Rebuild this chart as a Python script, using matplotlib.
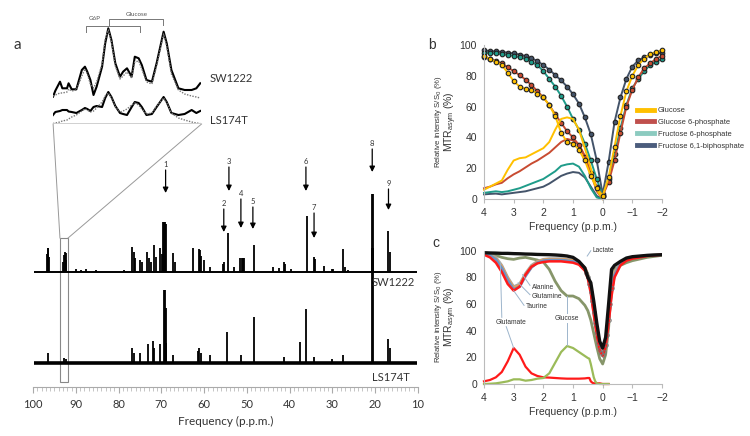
import matplotlib
matplotlib.use("Agg")
import matplotlib.pyplot as plt
from matplotlib.lines import Line2D

W, H = 750, 436

# ---------------- panel a: 13C spectra (ppm, peak height) ----------------
sw_ppm = [96.8, 96.6, 96.4, 96.2, 93.0, 92.8, 92.6, 92.4, 92.2, 90.0, 88.7, 87.5, 85.2, 78.8,
          76.8, 76.5, 76.2, 75.0, 74.6, 73.3, 72.9, 72.4, 71.7, 71.2, 70.3, 69.9, 69.5, 69.3,
          69.1, 68.9, 67.2, 66.8, 62.5, 61.3, 61.0, 60.7, 60.1, 58.6, 55.6, 55.3, 54.5, 53.1,
          51.5, 51.2, 50.9, 50.6, 48.4, 44.0, 42.5, 41.4, 41.2, 39.6, 36.0, 34.4, 34.0, 32.0,
          30.2, 29.8, 27.6, 27.0, 26.3, 20.8, 20.6, 16.9, 16.6]
sw_height = [18, 24, 24, 15, 10, 17, 20, 19, 12, 3, 2.5, 3, 2, 2,
             25, 20, 14, 12, 10, 20, 14, 10, 27, 15, 24, 18, 50, 50,
             50, 48, 19, 10, 24, 23, 22, 16, 12, 5, 8, 10, 39, 5,
             14, 14, 14, 14, 27, 5, 4, 10, 8, 3, 56, 15, 13, 6,
             3, 3, 23, 5, 2, 78, 78, 41, 20]
ls_ppm = [96.5, 92.7, 92.3, 76.8, 76.4, 74.9, 73.2, 72.0, 71.6, 70.2, 69.4, 69.2, 69.0, 68.8,
          67.2, 61.4, 61.1, 60.8, 58.6, 54.6, 51.3, 48.4, 41.3, 37.6, 36.1, 34.4, 30.2, 27.5,
          20.8, 20.6, 16.9, 16.6]
ls_height = [10, 5, 4, 15, 10, 10, 19, 22, 15, 19, 73, 73, 55, 20,
             8, 12, 15, 10, 8, 31, 8, 46, 6, 21, 54, 6, 4, 8,
             115, 115, 24, 15]

# arrows: label, ppm, label y, arrow start, arrow tip (pixel rows)
peak_labels = ["1", "2", "3", "4", "5", "6", "7", "8", "9"]
peak_label_ppm = [69.0, 55.4, 54.2, 51.4, 48.6, 36.2, 34.3, 20.7, 16.9]

# inset (zoom on 91.8-93.7 ppm)
inset_ppm = [93.70, 93.67, 93.61, 93.58, 93.52, 93.50, 93.46, 93.40, 93.33, 93.29, 93.26, 93.22,
             93.18, 93.14, 93.07, 93.03, 92.99, 92.95, 92.90, 92.84, 92.80, 92.75, 92.69, 92.65,
             92.60, 92.56, 92.50, 92.43, 92.37, 92.28, 92.24, 92.18, 92.09, 92.01, 91.92, 91.86, 91.81]
sw_inset = [27.3, 33.3, 42.3, 35.7, 35.7, 40.7, 34.7, 34.7, 54, 57.3, 52.3, 44, 29, 37.3, 57.3,
            80.7, 95.7, 84, 60.7, 47.3, 52.3, 55.7, 47.3, 67.3, 65.7, 59, 44, 42.3, 60.7, 92.3,
            80.7, 54, 35.7, 34, 34, 35.7, 40.7]
sw_inset_fit = [28, 29, 31, 31, 32, 35, 33, 34, 48, 55, 50, 40, 36, 42, 60, 85, 94, 82, 58, 45,
                48, 52, 46, 62, 63, 55, 42, 40, 58, 90, 78, 50, 34, 30, 28, 27, 26]
ls_inset = [9, 12, 13, 14, 14, 12.5, 12, 11, 14, 16, 15, 13, 17, 18, 17, 26, 32, 27, 18, 11,
            10, 9, 17, 22, 21, 17, 9, 10, 17, 27, 22, 11, 9, 10, 14, 11, 13]
ls_inset_fit = [0.5, 1, 2, 3, 4, 5, 7, 9, 13, 15, 14, 12, 13, 16, 22, 28, 31, 26, 17, 12, 13,
                15, 19, 21, 19, 15, 10, 11, 18, 26, 21, 11, 6, 4, 2, 1, 0.5]

# ---------------- panel b: Z-spectra and MTRasym ----------------
freq_b = [4.0, 3.8, 3.6, 3.4, 3.2, 3.0, 2.8, 2.6, 2.4, 2.2, 2.0, 1.8, 1.6, 1.4, 1.2, 1.0,
          0.8, 0.6, 0.4, 0.2, 0.0, -0.2, -0.4, -0.6, -0.8, -1.0, -1.2, -1.4, -1.6, -1.8, -2.0]
b_names = ["Glucose", "Glucose 6-phosphate", "Fructose 6-phosphate", "Fructose 6,1-biphosphate"]
z_glc = [93, 91, 89, 87, 82, 76.5, 73, 71.5, 70.5, 68.5, 66, 61, 54, 43, 37, 36,
         32, 25, 15, 7, 2, 14, 34, 54, 70, 80, 87, 91, 94, 95.5, 96.5]
z_g6p = [92, 91, 89.5, 88, 85.5, 83, 80.5, 77.5, 74, 70, 66, 61, 55, 49.5, 44, 40,
         35, 27, 17, 8, 2, 11, 25, 43, 60, 71, 79, 85, 88, 91, 93]
z_f6p = [95, 94.8, 94.5, 94, 93.5, 93, 92, 91, 89, 87, 83, 78, 73, 67, 60, 52,
         45, 36, 25, 13, 2, 13, 29, 46, 61, 72, 78, 83, 87, 89, 91]
z_fbp = [96.5, 96, 95.8, 95.5, 95, 94.5, 93.8, 92.8, 91.5, 89.5, 87, 84, 80.5, 77, 73, 68,
         62, 53, 42, 25, 3, 24, 50, 66, 78, 86, 90, 92, 93.5, 94.5, 95]
freq_mtr = [4.0, 3.8, 3.6, 3.4, 3.2, 3.0, 2.8, 2.6, 2.4, 2.2, 2.0, 1.8, 1.6, 1.4, 1.2, 1.0,
            0.8, 0.6, 0.4, 0.2, 0.0]
mtr_glc = [6, 8, 10, 12, 19, 25, 26.5, 27, 29, 31, 33, 37, 45, 52, 53, 52, 45, 33, 20, 6, 0]
mtr_g6p = [7, 8, 9.5, 10.5, 13.5, 16, 18, 20.5, 23, 25, 27.5, 30, 33.5, 37, 39, 38, 35.5, 28, 17, 5, 0]
mtr_f6p = [4, 4.5, 5, 4.5, 5, 6, 7, 8.5, 10, 11.5, 13, 15.5, 18, 21.5, 22.5, 23, 21, 15, 7, 1, 0]
mtr_fbp = [3, 3.3, 3.5, 3, 3.5, 4, 4.5, 5, 6, 7, 8, 10, 12.5, 15, 16.5, 17.5, 17, 14, 8, 2, 0]

# ---------------- panel c: metabolites ----------------
freq_c = [4.0, 3.8, 3.6, 3.4, 3.2, 3.0, 2.8, 2.6, 2.4, 2.2, 2.0, 1.8, 1.6, 1.4, 1.2, 1.0,
          0.8, 0.6, 0.5, 0.4, 0.3, 0.2, 0.1, 0.0, -0.1, -0.2, -0.3, -0.4, -0.6, -0.8, -1.0, -1.5, -2.0]
z_lactate = [98.5, 98.3, 98.2, 98, 98, 97.8, 97.7, 97.5, 97.4, 97.2, 97.1, 97, 96.8, 96.5, 96, 95,
             92, 87, 80, 76, 62, 46, 32, 27, 35, 60, 86, 89, 92, 94.5, 95.5, 96.5, 97]
z_alanine = [97.5, 96.5, 94, 88, 79, 72, 74, 82, 88, 91.5, 93, 93.5, 93.5, 93.5, 93, 92.5,
             91, 87, 82, 71, 55, 39, 27, 23, 30, 48, 70, 83, 90, 93, 94.5, 96.3, 97]
z_glutamine = [97.5, 96.5, 93.5, 87, 78, 71, 73, 81, 87.5, 91, 92.5, 93, 93, 93, 92.5, 92,
               90.5, 86, 81, 70, 54, 38, 26, 22, 29, 47, 69, 82, 90, 93, 94.5, 96.3, 97]
z_taurine = [97.8, 97, 95, 89, 80, 73, 75, 83, 89, 92, 93.5, 94, 94, 94, 93.5, 93,
             91.5, 87.5, 82.5, 72, 56, 40, 28, 24, 31, 49, 71, 84, 90.5, 93.5, 95, 96.5, 97.2]
z_glutamate = [97, 95, 91, 84, 75, 70, 73, 82, 88, 90.5, 91.5, 92, 92, 92, 91.5, 91,
               89.5, 85, 79, 68, 52, 37, 25, 21, 28, 45, 66, 80, 89, 92.5, 94, 96, 97]
z_glucose = [98, 97.5, 96.5, 95, 94, 93.5, 94.5, 95, 94, 93, 91.5, 86, 77, 70, 66, 66,
             64, 59, 55, 48, 38, 28, 19, 15, 22, 42, 75, 86, 89, 91, 92.5, 95, 96.5]
dip_freq = [0.55, 0.5, 0.45, 0.4, 0.35, 0.3, 0.25, 0.2, 0.15, 0.1, 0.05, 0.0,
            -0.05, -0.1, -0.15, -0.2, -0.25, -0.3]
dip_z = [83, 80, 75, 69, 62, 54, 46, 38, 31, 26, 23, 22, 24, 29, 37, 48, 60, 72]
mtr_freq_c = [4.0, 3.8, 3.6, 3.4, 3.2, 3.0, 2.8, 2.6, 2.4, 2.2, 2.0, 1.8, 1.6, 1.4, 1.2, 1.0,
              0.8, 0.6, 0.5, 0.45, 0.4, 0.35, 0.3, 0.25, 0.2, 0.1, 0.0, -0.2]
mtr_glutamate = [2, 3, 5, 9, 17, 27, 22, 13, 8, 6, 5, 4.8, 4.5, 4.2, 4, 4,
                 4, 4.2, 4.5, 4.5, 2, 1, 0.5, 0.5, 0.5, 0.5, 0, 0]
mtr_glucose = [0, 0.2, 0.5, 1.2, 2, 3.5, 3.5, 2.5, 3, 4, 4.5, 8, 16, 24, 28.5, 27,
               24, 21, 19.5, 19, 15, 10, 5, 2, 0.5, 0, 0, 0]

c_yellow, c_red, c_teal, c_slate = "#FFC000", "#C84B31", "#1F9C8A", "#44546A"
legend_cols = ["#FFC000", "#C0504D", "#8CCBC0", "#4B5C7C"]


def rect(x0, y0, x1, y1):
    return [x0 / W, 1 - y1 / H, (x1 - x0) / W, (y1 - y0) / H]


def fpos(x, y):
    return (x / W, 1 - y / H)


plt.rcParams["font.family"] = ["Liberation Sans", "DejaVu Sans"]
fig = plt.figure(figsize=(W / 100, H / 100), dpi=100)

# ================= panel a =================
ax = fig.add_axes(rect(33, 0, 418, 387))
sw_base, ls_base = 115, 24
ax.set_xlim(100, 10)
ax.set_ylim(0, 387)
ax.hlines(sw_base, 99.8, 10.2, color="k", lw=1.4)
ax.hlines(ls_base, 99.8, 10.2, color="k", lw=2.6)
ax.vlines(sw_ppm, sw_base, [sw_base + h for h in sw_height], color="k", lw=1.3)
ax.vlines(ls_ppm, ls_base, [ls_base + h for h in ls_height], color="k", lw=1.3)
for sp in ["top", "right", "left"]:
    ax.spines[sp].set_visible(False)
ax.spines["bottom"].set_color("#aaaaaa")
ax.set_yticks([])
ax.set_xticks(range(100, 9, -10))
ax.set_xticks(range(100, 9, -1), minor=True)
ax.tick_params(axis="x", which="major", length=4, color="#aaaaaa", labelsize=8,
               labelcolor="#333333", pad=5)
ax.tick_params(axis="x", which="minor", length=3, color="#bbbbbb")
for lab in ax.get_xticklabels():
    lab.set_family("Lato")
ax.set_xlabel("Frequency (p.p.m.)", family="Lato", fontsize=8.5, color="#333333", labelpad=4)

# numbered arrows (label row, arrow start, arrow tip in pixel rows)
label_rows = [164, 203, 161, 193, 201, 161, 207, 143, 183]
tip_rows = [193, 232, 191, 228, 229, 191, 238, 172, 210]
for lab, ppm, ly, ty in zip(peak_labels, peak_label_ppm, label_rows, tip_rows):
    ax.text(ppm, 387 - ly, lab, ha="center", va="center", fontsize=5.5, family="Lato",
            color="#333333")
    ax.annotate("", xy=(ppm, 387 - ty), xytext=(ppm, 387 - ly - 6),
                arrowprops=dict(arrowstyle="-|>", color="k", lw=0.9, mutation_scale=8,
                                shrinkA=0, shrinkB=0))

# zoom box and connecting lines
ax.add_patch(plt.Rectangle((93.7, 387 - 382), -1.9, 144, fill=False, ec="#888888", lw=0.8))
ax.plot([93.7, 95.3], [387 - 238, 387 - 124], color="#999999", lw=0.7, clip_on=False)
ax.plot([91.8, 60.6], [387 - 238, 387 - 124], color="#999999", lw=0.7, clip_on=False)

fig.text(*fpos(372, 282), "SW1222", family="Lato", fontsize=8, color="#333333", va="center")
fig.text(*fpos(372, 377), "LS174T", family="Lato", fontsize=8, color="#333333", va="center")
fig.text(*fpos(13, 45), "a", family="Lato", fontsize=11, color="#333333", va="center")

# inset
axi = fig.add_axes(rect(53, 4, 201, 124))
axi.set_xlim(93.7, 91.8)
axi.set_ylim(0, 120)
axi.axis("off")
axi.plot(inset_ppm, sw_inset, color="k", lw=1.5)
axi.plot(inset_ppm, sw_inset_fit, color="#777777", lw=1.0, ls=(0, (1, 1)))
axi.plot(inset_ppm, ls_inset, color="k", lw=1.5)
axi.plot(inset_ppm, ls_inset_fit, color="#777777", lw=1.0, ls=(0, (1, 1)))
axi.axhline(0, color="#cccccc", lw=2)
# G6P / Glucose brackets
axi.plot([93.28, 93.28, 92.58, 92.58], [92, 98, 98, 92], color="#777777", lw=0.7)
axi.plot([92.98, 92.98, 92.29, 92.29], [99, 105, 105, 99], color="#777777", lw=0.7)
axi.text(93.16, 106, "G6P", ha="center", va="center", fontsize=4.5, color="#555555", family="Lato")
axi.text(92.62, 110, "Glucose", ha="center", va="center", fontsize=4.5, color="#555555",
         family="Lato")
fig.text(*fpos(210, 79), "SW1222", family="Lato", fontsize=8, color="#333333", va="center")
fig.text(*fpos(210, 120), "LS174T", family="Lato", fontsize=8, color="#333333", va="center")


def style_axis(a):
    a.set_xlim(4, -2)
    a.set_ylim(0, 100)
    for sp in ["top", "right"]:
        a.spines[sp].set_visible(False)
    for sp in ["left", "bottom"]:
        a.spines[sp].set_color("#bbbbbb")
    a.set_xticks([4, 3, 2, 1, 0, -1, -2])
    a.set_yticks([0, 20, 40, 60, 80, 100])
    a.tick_params(axis="x", length=3, color="#bbbbbb", labelsize=7.5, labelcolor="#333333")
    a.tick_params(axis="y", length=0, labelsize=7.5, labelcolor="#333333", pad=5)
    a.set_xlabel("Frequency (p.p.m.)", fontsize=7.5, color="#333333", labelpad=3)


def ylabels(ymid):
    fig.text(*fpos(438, ymid), "Relative intensity S/S$_0$ (%)", rotation=90, fontsize=5.6,
             color="#333333", ha="center", va="center")
    fig.text(*fpos(451, ymid), "MTR$_{\\mathregular{asym}}$ (%)", rotation=90, fontsize=7.5,
             color="#333333", ha="center", va="center")


# ================= panel b =================
axb = fig.add_axes(rect(484, 45, 662, 199))
style_axis(axb)
z_series = [z_glc, z_g6p, z_f6p, z_fbp]
m_series = [mtr_glc, mtr_g6p, mtr_f6p, mtr_fbp]
b_cols = [c_yellow, c_red, c_teal, c_slate]
for z, m, col in zip(z_series[::-1], m_series[::-1], b_cols[::-1]):
    axb.plot(freq_mtr, m, color=col, lw=1.4, clip_on=False)
    axb.plot(freq_b, z, color=col, lw=1.4, marker="o", ms=3.3, mfc=col, mec="#222222",
             mew=0.8, clip_on=False)
handles = [Line2D([], [], color=c, lw=3.5) for c in legend_cols]
axb.legend(handles, b_names, loc="upper left", bbox_to_anchor=fpos(637, 107),
           bbox_transform=fig.transFigure, frameon=False, fontsize=5.4, handlelength=2.3,
           handletextpad=0.5, labelspacing=0.6, borderaxespad=0, borderpad=0,
           labelcolor="#333333")
ylabels(122)
fig.text(*fpos(428, 45), "b", fontsize=10, color="#333333", va="center")

# ================= panel c =================
axc = fig.add_axes(rect(484, 250.7, 662, 384))
style_axis(axc)
axc.plot(freq_c, z_glucose, color="#87966A", lw=2.0)
axc.plot(freq_c, z_taurine, color="#A5A5A5", lw=2.0)
axc.plot(freq_c, z_alanine, color="#F6A24B", lw=2.0)
axc.plot(freq_c, z_glutamine, color="#6A93C6", lw=2.0)
axc.plot(freq_c, z_glutamate, color="#FF1A1A", lw=1.8)
axc.plot(dip_freq, dip_z, ls="none", marker="o", ms=2.6, mfc="none", mec="#777777", mew=0.6)
axc.plot(freq_c, z_lactate, color="#111111", lw=2.4)
axc.plot(mtr_freq_c, mtr_glutamate, color="#FF1A1A", lw=1.6, clip_on=False)
axc.plot(mtr_freq_c, mtr_glucose, color="#9BBB59", lw=1.6, clip_on=False)

lead = dict(color="#9DB5CC", lw=0.7)
ann_kw = dict(fontsize=4.8, color="#333333")
axc.plot([0.52, 0.4], [96, 100], **lead, clip_on=False)
axc.text(0.35, 100.5, "Lactate", ha="left", va="center", **ann_kw)
axc.plot([2.45, 2.7], [74, 82], **lead)
axc.text(2.38, 72.5, "Alanine", ha="left", va="center", **ann_kw)
axc.plot([2.45, 2.85], [67, 76], **lead)
axc.text(2.38, 66, "Glutamine", ha="left", va="center", **ann_kw)
axc.plot([2.65, 3.0], [59, 70], **lead)
axc.text(2.6, 58.5, "Taurine", ha="left", va="center", **ann_kw)
axc.text(3.1, 46.5, "Glutamate", ha="center", va="center", **ann_kw)
axc.plot([3.4, 3.45], [50, 91], **lead)
axc.plot([3.25, 3.0], [43, 27], **lead)
axc.text(1.2, 49.5, "Glucose", ha="center", va="center", **ann_kw)
axc.plot([1.2, 1.2], [53, 66], **lead)
axc.plot([1.2, 1.2], [46, 29], **lead)
ylabels(317)
fig.text(*fpos(432, 243), "c", fontsize=10, color="#333333", va="center")

fig.savefig("out.png", dpi=100)
